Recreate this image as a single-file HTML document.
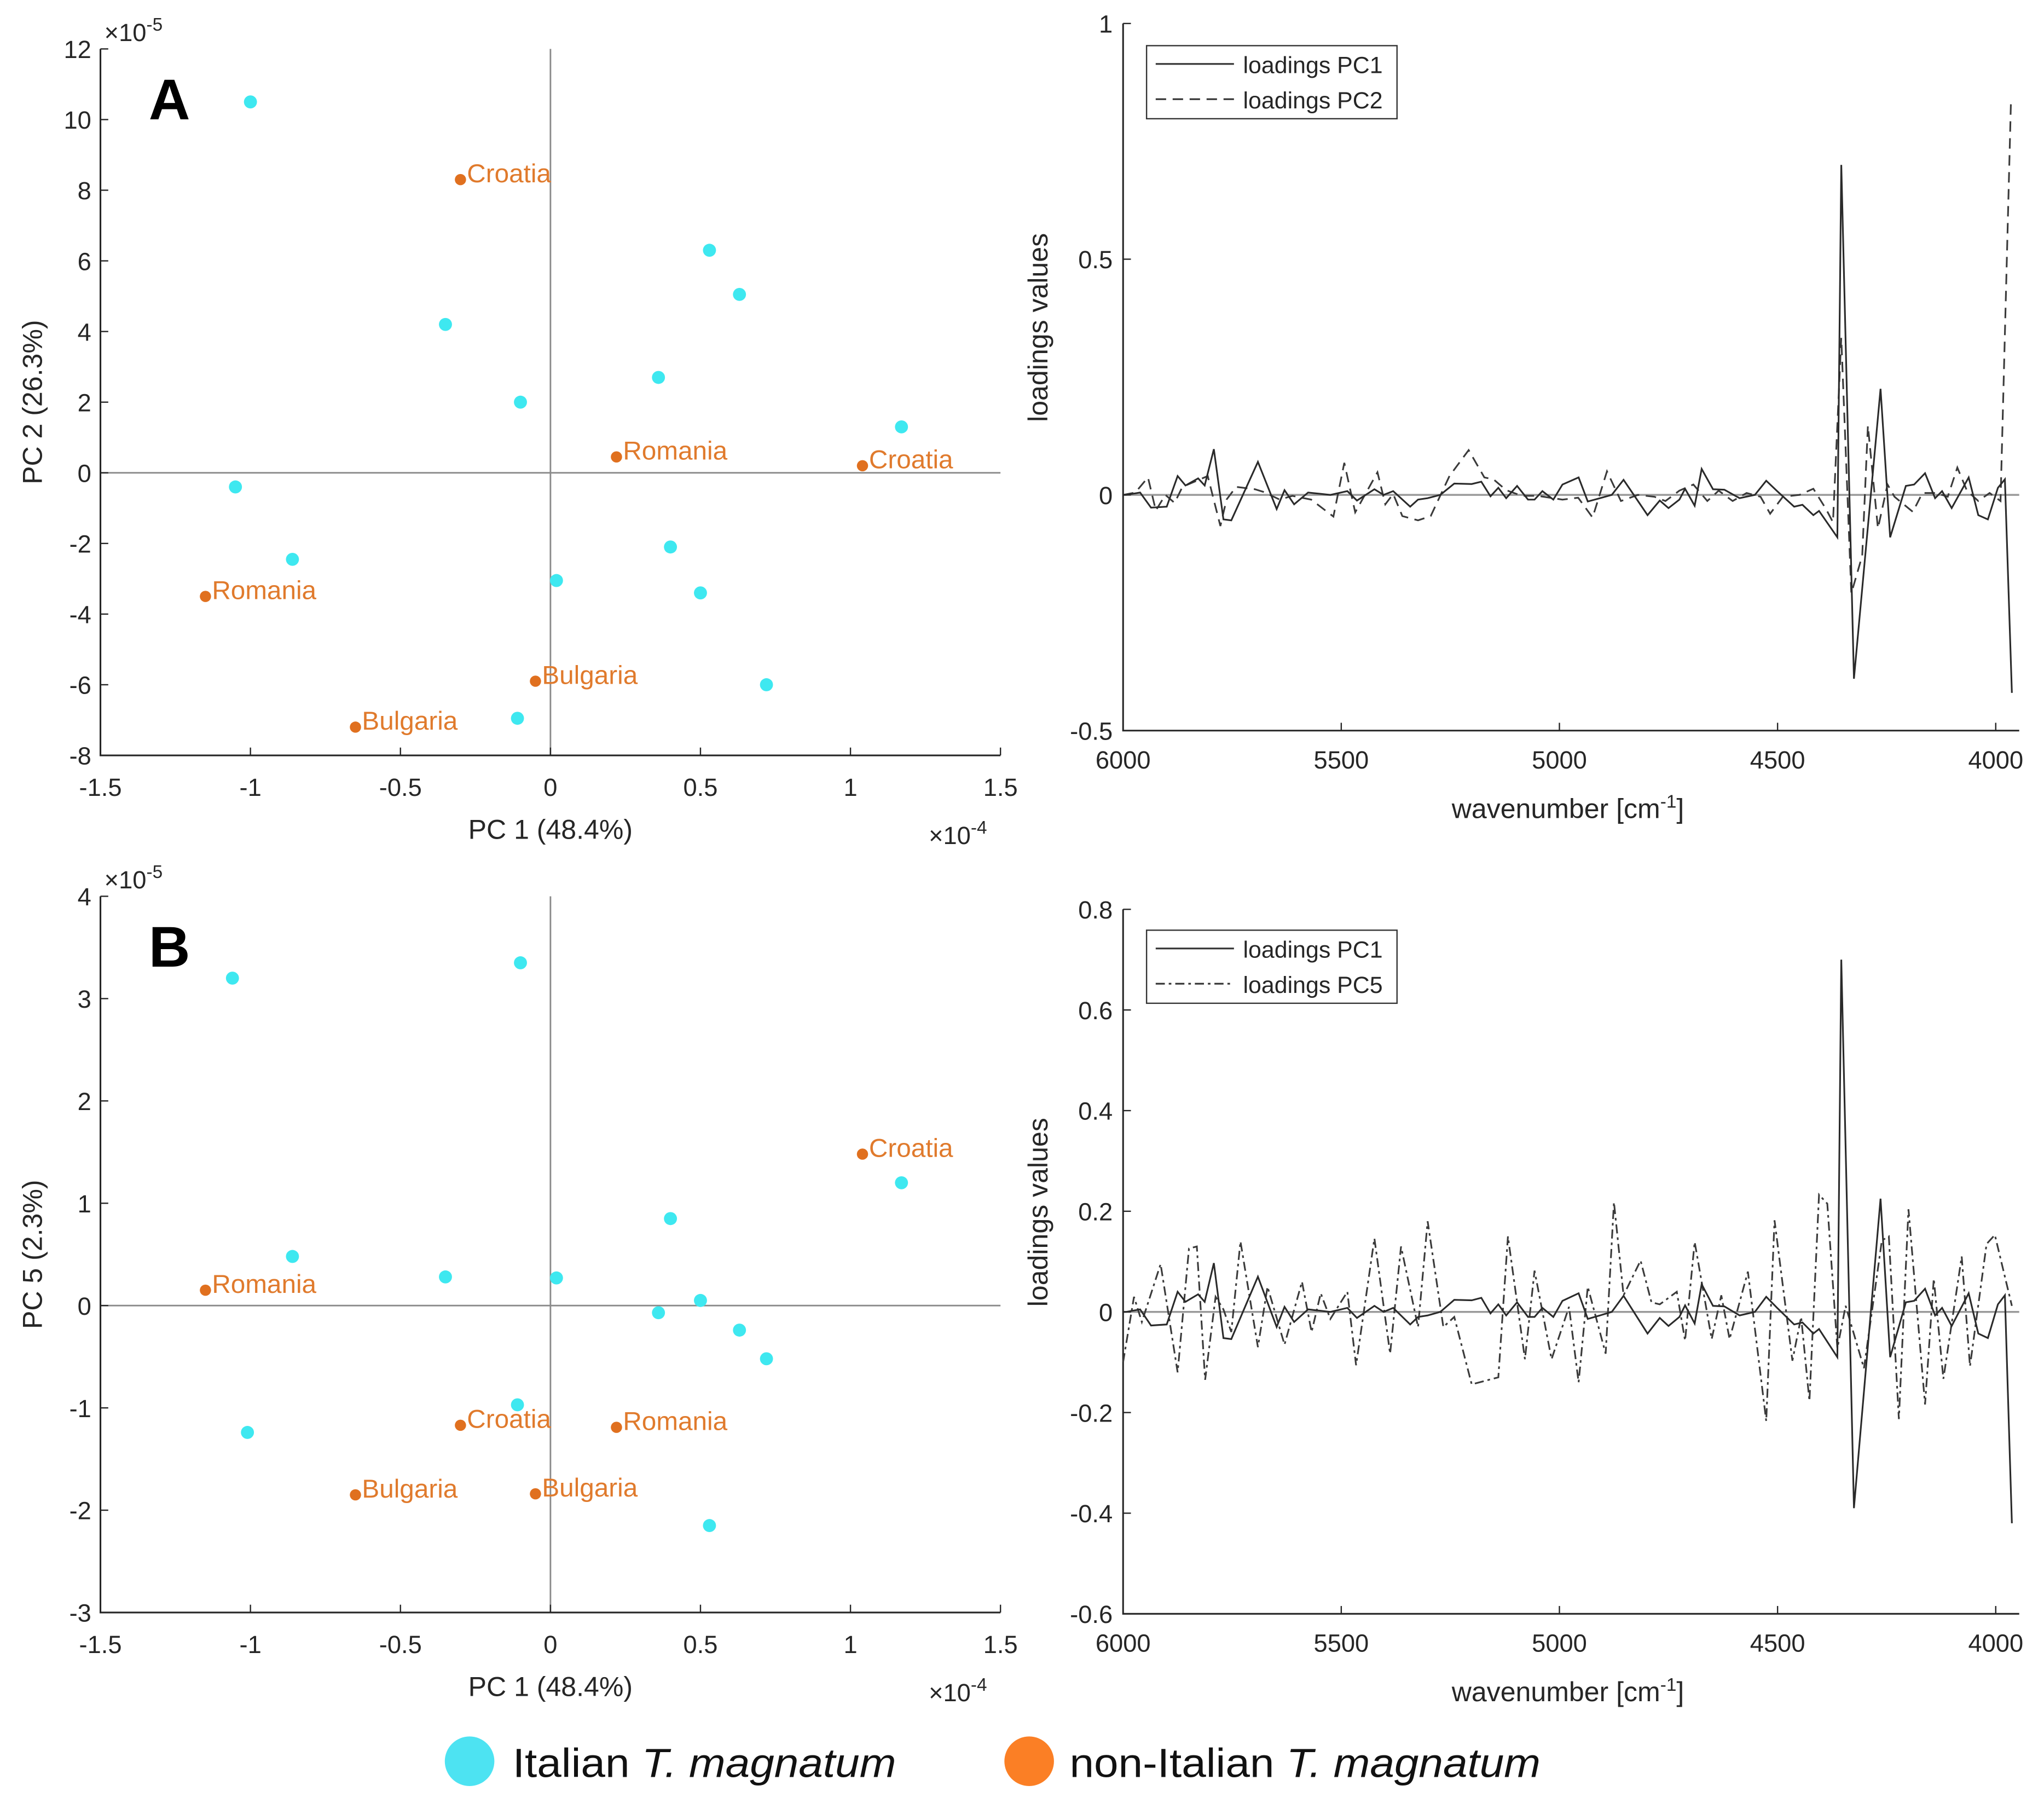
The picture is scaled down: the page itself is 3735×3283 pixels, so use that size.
<!DOCTYPE html>
<html><head><meta charset="utf-8">
<style>
html,body{margin:0;padding:0;background:#fff;}
svg{display:block;}
text{font-family:"Liberation Sans",sans-serif;}
</style></head>
<body>
<svg id="fig" width="3735" height="3283" viewBox="0 0 1567 1377.4" preserveAspectRatio="none" xmlns="http://www.w3.org/2000/svg">
<rect width="1567" height="1377.4" fill="#fff"/>
<g id="pA"></g>
<g id="pB"></g>
<g id="pC"></g>
<g id="pD"></g>
<g>
<circle cx="360" cy="1350" r="19" fill="#4de3f2"/>
<text x="393" y="1362" font-size="31" fill="#111" textLength="294" lengthAdjust="spacingAndGlyphs">Italian <tspan font-style="italic">T. magnatum</tspan></text>
<circle cx="789" cy="1350" r="19" fill="#fb7f25"/>
<text x="820" y="1362" font-size="31" fill="#111" textLength="361" lengthAdjust="spacingAndGlyphs">non-Italian <tspan font-style="italic">T. magnatum</tspan></text>
</g>
</svg>
<script>
// ---- scatter data (PC1 x1e-4) ----
const aItalX = [-1.0,-0.35,-0.1,0.53,0.63,0.36,1.17,-1.05,-0.86,0.02,0.4,0.5,0.72,-0.11];
const aItalY = [10.5,4.2,2.0,6.3,5.05,2.7,1.3,-0.4,-2.45,-3.05,-2.1,-3.4,-6.0,-6.95];
const aNonX = [-0.3,0.22,1.04,-1.15,-0.05,-0.65];
const aNonY = [8.3,0.45,0.2,-3.5,-5.9,-7.2];
const aNonLbl = ["Croatia","Romania","Croatia","Romania","Bulgaria","Bulgaria"];
const bItalX = [-1.06,-0.1,1.17,0.4,-0.86,-0.35,0.02,0.5,0.36,0.63,0.72,-0.11,-1.01,0.53];
const bItalY = [3.2,3.35,1.2,0.85,0.48,0.28,0.27,0.05,-0.07,-0.24,-0.52,-0.97,-1.24,-2.15];
const bNonX = [1.04,-1.15,-0.3,0.22,-0.65,-0.05];
const bNonY = [1.48,0.15,-1.17,-1.19,-1.85,-1.84];
const bNonLbl = ["Croatia","Romania","Croatia","Romania","Bulgaria","Bulgaria"];
const scXTicks = [-1.5,-1,-0.5,0,0.5,1,1.5];
const aYTicks = [12,10,8,6,4,2,0,-2,-4,-6,-8];
const bYTicks = [4,3,2,1,0,-1,-2,-3];
// ---- loadings data ----
const pc1Wn = [6000,5993,5961,5936,5900,5875,5857,5828,5813,5792,5770,5752,5691,5648,5630,5608,5576,5525,5486,5464,5424,5403,5381,5342,5324,5302,5273,5241,5201,5179,5158,5140,5122,5097,5072,5057,5039,5014,4993,4956,4935,4907,4880,4853,4798,4770,4750,4725,4712,4690,4674,4648,4622,4587,4552,4526,4501,4462,4443,4418,4405,4363,4354,4325,4264,4242,4206,4187,4162,4139,4123,4101,4062,4040,4018,3995,3979,3963];
const pc1Val = [0,0,0.005,-0.027,-0.025,0.04,0.02,0.035,0.02,0.097,-0.052,-0.054,0.07,-0.03,0.01,-0.02,0.005,0,0.008,-0.012,0.012,0,0.008,-0.025,-0.01,-0.007,0,0.024,0.023,0.028,-0.003,0.015,-0.007,0.019,-0.01,-0.01,0.008,-0.01,0.022,0.037,-0.014,-0.007,0,0.032,-0.043,-0.012,-0.028,-0.01,0.013,-0.023,0.055,0.012,0.011,-0.007,0,0.03,0.008,-0.025,-0.021,-0.043,-0.034,-0.09,0.70,-0.39,0.225,-0.09,0.019,0.022,0.046,-0.007,0.008,-0.028,0.037,-0.043,-0.052,0.015,0.033,-0.42];
const pc2Wn = [6000,5972,5943,5925,5903,5882,5864,5806,5777,5763,5741,5698,5677,5641,5612,5569,5518,5493,5468,5417,5399,5381,5360,5324,5295,5252,5208,5172,5151,5122,5086,5050,4993,4957,4924,4891,4859,4820,4782,4757,4725,4693,4661,4635,4603,4571,4539,4517,4488,4450,4418,4389,4373,4354,4331,4306,4293,4270,4248,4232,4190,4168,4136,4110,4088,4066,4040,4014,3989,3965];
const pc2Val = [0,0.005,0.037,-0.033,0,-0.017,0.017,0.04,-0.066,-0.01,0.017,0.012,0.006,-0.01,-0.002,-0.01,-0.046,0.068,-0.037,0.048,-0.02,0.002,-0.045,-0.054,-0.045,0.04,0.095,0.037,0.033,0.01,-0.002,-0.002,-0.01,-0.006,-0.048,0.05,-0.013,0,-0.004,-0.013,0.009,0.022,-0.013,0.009,-0.013,0.004,-0.004,-0.04,-0.004,0,0.013,-0.03,-0.058,0.333,-0.209,-0.129,0.147,-0.071,0.022,-0.004,-0.036,0.004,0.004,-0.004,0.058,0.009,-0.013,0.004,-0.013,0.84];
const pc5Wn = [6000,5975,5957,5914,5875,5849,5831,5812,5788,5770,5752,5731,5691,5669,5630,5590,5568,5547,5525,5486,5466,5424,5388,5363,5324,5302,5266,5241,5201,5140,5118,5079,5057,5018,4978,4956,4935,4894,4875,4853,4814,4789,4770,4731,4712,4690,4651,4629,4610,4568,4526,4507,4466,4446,4427,4405,4386,4363,4344,4302,4261,4245,4222,4200,4162,4142,4120,4078,4059,4021,4002,3963];
const pc5Val = [-0.1,0.03,-0.02,0.095,-0.12,0.126,0.13,-0.135,0.03,0.005,-0.04,0.14,-0.07,0.05,-0.065,0.06,-0.04,0.037,-0.014,0.04,-0.106,0.146,-0.083,0.13,-0.03,0.18,-0.03,-0.01,-0.144,-0.13,0.15,-0.094,0.082,-0.094,0.01,-0.14,0.05,-0.083,0.218,0.033,0.102,0.019,0.015,0.04,-0.057,0.139,-0.054,0.033,-0.054,0.08,-0.217,0.182,-0.097,-0.01,-0.177,0.233,0.215,-0.072,0.012,-0.112,0.142,0.15,-0.213,0.204,-0.184,0.066,-0.133,0.11,-0.108,0.135,0.153,0.012];
const wnTicks = [6000,5500,5000,4500,4000];
const cYTicks = [1,0.5,0,-0.5];
const dYTicks = [0.8,0.6,0.4,0.2,0,-0.2,-0.4,-0.6];

const NS="http://www.w3.org/2000/svg";
function mk(parent,tag,attrs,txt){const e=document.createElementNS(NS,tag);for(const k in attrs)e.setAttribute(k,attrs[k]);if(txt!==undefined)e.textContent=txt;parent.appendChild(e);return e;}
function lin(d0,d1,r0,r1){return v=>r0+(v-d0)*(r1-r0)/(d1-d0);}
const TXT="#262626", AX="#262626";

function scatter(g, yLo, yHi, top, bot, yT, ix, iy, nx, ny, nl, letter, ylab){
  const L=77,R=767;
  const sx=lin(-1.5,1.5,L,R), sy=lin(yLo,yHi,bot,top);
  let e;
  e=mk(g,'line',{x1:sx(0),x2:sx(0),y1:top,y2:bot,stroke:'#8a8a8a','stroke-width':1.2});
  
  e=mk(g,'line',{x1:L,x2:R,y1:sy(0),y2:sy(0),stroke:'#8a8a8a','stroke-width':1.2});
  
  e=mk(g,'path',{d:`M${L},${top} L${L},${bot} L${R},${bot}`,fill:'none',stroke:AX,'stroke-width':1.3});
  
  scXTicks.forEach(t=>{
    mk(g,'line',{x1:sx(t),x2:sx(t),y1:bot,y2:bot-6,stroke:AX,'stroke-width':1});
    e=mk(g,'text',{x:sx(t),y:bot+31,'font-size':19,'text-anchor':'middle',fill:TXT},String(t));
    
  });
  yT.forEach(t=>{
    mk(g,'line',{x1:L,x2:L+6,y1:sy(t),y2:sy(t),stroke:AX,'stroke-width':1});
    e=mk(g,'text',{x:L-7,y:sy(t)+7,'font-size':19,'text-anchor':'end',fill:TXT},String(t));
    
  });
  e=mk(g,'text',{x:80,y:top-6,'font-size':19,fill:TXT});
  e.innerHTML='×10<tspan dy="-8" font-size="14">-5</tspan>';
  
  e=mk(g,'text',{x:712,y:bot+68,'font-size':19,fill:TXT});
  e.innerHTML='×10<tspan dy="-8" font-size="14">-4</tspan>';
  
  e=mk(g,'text',{x:422,y:bot+64,'font-size':21,'text-anchor':'middle',fill:TXT},'PC 1 (48.4%)');
  
  const cy=(top+bot)/2;
  e=mk(g,'text',{x:0,y:0,'font-size':21,'text-anchor':'middle',fill:TXT,transform:`translate(32,${cy}) rotate(-90)`},ylab);
  
  e=mk(g,'text',{x:114,y:top+54,'font-size':44,'font-weight':'bold',fill:'#000'},letter);
  
  ix.forEach((v,i)=>{
    e=mk(g,'circle',{cx:sx(v),cy:sy(iy[i]),r:5,fill:'#3ee8f0'});
    
  });
  nx.forEach((v,i)=>{
    e=mk(g,'circle',{cx:sx(v),cy:sy(ny[i]),r:4.3,fill:'#e0701f'});
    
    e=mk(g,'text',{x:sx(v)+5,y:sy(ny[i])+2,'font-size':20,fill:'#e07a2c'},nl[i]);
    
  });
}
scatter(document.getElementById('pA'),-8,12,37.5,579,aYTicks,aItalX,aItalY,aNonX,aNonY,aNonLbl,'A','PC 2 (26.3%)');
scatter(document.getElementById('pB'),-3,4,687,1236,bYTicks,bItalX,bItalY,bNonX,bNonY,bNonLbl,'B','PC 5 (2.3%)');

function loadings(g, yLo, yHi, top, bot, yT, s2wn, s2val, dash, leg2, legTop){
  const L=861,R=1548;
  const sx=lin(6000,4000,861,1530), sy=lin(yLo,yHi,bot,top);
  let e;
  e=mk(g,'line',{x1:L,x2:R,y1:sy(0),y2:sy(0),stroke:'#9a9a9a','stroke-width':1.5});
  
  e=mk(g,'path',{d:`M${L},${top} L${L},${bot} L${R},${bot}`,fill:'none',stroke:AX,'stroke-width':1.3});
  
  wnTicks.forEach(t=>{
    mk(g,'line',{x1:sx(t),x2:sx(t),y1:bot,y2:bot-6,stroke:AX,'stroke-width':1});
    e=mk(g,'text',{x:sx(t),y:bot+29,'font-size':19,'text-anchor':'middle',fill:TXT},String(t));
    
  });
  yT.forEach(t=>{
    mk(g,'line',{x1:L,x2:L+6,y1:sy(t),y2:sy(t),stroke:AX,'stroke-width':1});
    e=mk(g,'text',{x:L-8,y:sy(t)+7,'font-size':19,'text-anchor':'end',fill:TXT},String(t));
    
  });
  e=mk(g,'text',{x:1202,y:bot+67,'font-size':21,'text-anchor':'middle',fill:TXT});
  e.innerHTML='wavenumber [cm<tspan dy="-8" font-size="14">-1</tspan><tspan dy="8">]</tspan>';
  
  e=mk(g,'text',{x:0,y:0,'font-size':21,'text-anchor':'middle',fill:TXT,transform:`translate(803,${(top+bot)/2-(bot-top)*0.07}) rotate(-90)`},'loadings values');
  
  const path=(w,v)=>w.map((x,i)=>(i?'L':'M')+sx(x).toFixed(2)+','+sy(v[i]).toFixed(2)).join(' ');
  e=mk(g,'path',{d:path(s2wn,s2val),fill:'none',stroke:'#3a3a3a','stroke-width':1.3,'stroke-dasharray':dash});
  
  e=mk(g,'path',{d:path(pc1Wn,pc1Val),fill:'none',stroke:'#2a2a2a','stroke-width':1.3});
  
  const lg=mk(g,'g',{});
  
  mk(lg,'rect',{x:L+18,y:legTop,width:192,height:56,fill:'#fff',stroke:'#333','stroke-width':1});
  mk(lg,'line',{x1:L+25,x2:L+85,y1:legTop+14,y2:legTop+14,stroke:'#333','stroke-width':1.3});
  e=mk(lg,'text',{x:L+92,y:legTop+21,'font-size':18,fill:TXT},'loadings PC1');
  
  mk(lg,'line',{x1:L+25,x2:L+85,y1:legTop+41,y2:legTop+41,stroke:'#333','stroke-width':1.3,'stroke-dasharray':dash});
  e=mk(lg,'text',{x:L+92,y:legTop+48,'font-size':18,fill:TXT},leg2);
  
}
loadings(document.getElementById('pC'),-0.5,1,18,560,cYTicks,pc2Wn,pc2Val,'8,5','loadings PC2',35);
loadings(document.getElementById('pD'),-0.6,0.8,697,1237,dYTicks,pc5Wn,pc5Val,'7,3,2,3','loadings PC5',713);
</script>
</body></html>
